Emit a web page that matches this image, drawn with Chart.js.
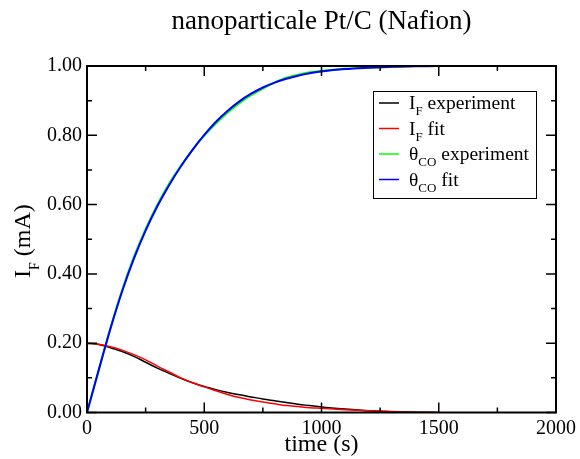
<!DOCTYPE html>
<html lang="en">
<head>
  <meta charset="UTF-8">
  <title>nanoparticale Pt/C (Nafion)</title>
  <script src="https://cdn.jsdelivr.net/npm/chart.js"></script>
  <style>
    html, body {
      margin: 0;
      padding: 0;
      background: #ffffff;
    }
    #caja {
      position: relative;
      width: 580px;
      height: 459px;
    }
  </style>
</head>
<body>
  <div id="caja"><canvas id="miCanvas" width="580" height="459"></canvas></div>

  <script>
    const titulo = "nanoparticale Pt/C (Nafion)";
    const tituloX = "time (s)";
    const tituloY = ["I", "F", " (mA)"];

    // tiempo (s)
    const tiempo = [0, 50, 100, 150, 200, 250, 300, 350, 400, 450, 500, 550, 600, 650, 700,
      750, 800, 850, 900, 950, 1000, 1100, 1200, 1300, 1400, 1500];

    const ifExp = [0.200, 0.196, 0.187, 0.176, 0.162, 0.145, 0.128, 0.113, 0.099, 0.086, 0.075,
      0.066, 0.058, 0.051, 0.045, 0.039, 0.034, 0.029, 0.024, 0.020, 0.016, 0.010, 0.005, 0.002, 0.001, 0.000];
    const ifFit = [0.200, 0.197, 0.190, 0.180, 0.167, 0.152, 0.134, 0.117, 0.100, 0.086, 0.074,
      0.063, 0.052, 0.043, 0.036, 0.030, 0.025, 0.020, 0.017, 0.014, 0.012, 0.008, 0.005, 0.003, 0.001, 0.000];
    const thetaExp = [0, 0.121, 0.244, 0.354, 0.449, 0.530, 0.600, 0.660, 0.712, 0.758, 0.799,
      0.834, 0.866, 0.893, 0.916, 0.935, 0.952, 0.966, 0.975, 0.982, 0.986, 0.992, 0.996, 0.998, 1.000, 1.000];
    const thetaFit = [0, 0.123, 0.242, 0.350, 0.444, 0.525, 0.595, 0.656, 0.710, 0.758, 0.801,
      0.839, 0.871, 0.898, 0.920, 0.938, 0.952, 0.963, 0.972, 0.979, 0.984, 0.991, 0.995, 0.998, 0.999, 1.000];

    // etiquetas: [texto, subindice, resto]
    const etiquetas = [
      ["I", "F", " experiment"],
      ["I", "F", " fit"],
      ["\u03B8", "CO", " experiment"],
      ["\u03B8", "CO", " fit"]
    ];
    const colores = ["#000000", "#ff0000", "#00ff00", "#0000ff"];
    const series = [ifExp, ifFit, thetaExp, thetaFit];

    const xTicks = [0, 500, 1000, 1500, 2000];
    const yTicks = [0, 0.2, 0.4, 0.6, 0.8, 1.0];

    const fuente = "'Liberation Serif', 'Times New Roman', serif";

    // titulo arriba
    const tituloPlugin = {
      id: 'tituloPlugin',
      afterDraw(chart) {
        const { ctx, chartArea: a } = chart;
        ctx.save();
        ctx.fillStyle = '#000';
        ctx.font = `27px ${fuente}`;
        ctx.textAlign = 'center';
        ctx.textBaseline = 'alphabetic';
        ctx.fillText(titulo, (a.left + a.right) / 2, 29);
        ctx.restore();
      }
    };

    // marco y ticks hacia adentro
    const marco = {
      id: 'marco',
      afterDraw(chart) {
        const { ctx, chartArea: a } = chart;
        const x = chart.scales.x;
        const y = chart.scales.y;
        ctx.save();
        ctx.strokeStyle = '#000';
        ctx.lineWidth = 1.5;
        ctx.beginPath();
        for (let i = 0; i < xTicks.length; i++) {
          const px = x.getPixelForValue(xTicks[i]);
          ctx.moveTo(px, a.bottom); ctx.lineTo(px, a.bottom - 10);
          ctx.moveTo(px, a.top); ctx.lineTo(px, a.top + 10);
          if (i < xTicks.length - 1) {
            const pm = x.getPixelForValue((xTicks[i] + xTicks[i + 1]) / 2);
            ctx.moveTo(pm, a.bottom); ctx.lineTo(pm, a.bottom - 5);
            ctx.moveTo(pm, a.top); ctx.lineTo(pm, a.top + 5);
          }
        }
        for (let i = 0; i < yTicks.length; i++) {
          const py = y.getPixelForValue(yTicks[i]);
          ctx.moveTo(a.left, py); ctx.lineTo(a.left + 10, py);
          ctx.moveTo(a.right, py); ctx.lineTo(a.right - 10, py);
          if (i < yTicks.length - 1) {
            const pm = y.getPixelForValue((yTicks[i] + yTicks[i + 1]) / 2);
            ctx.moveTo(a.left, pm); ctx.lineTo(a.left + 5, pm);
            ctx.moveTo(a.right, pm); ctx.lineTo(a.right - 5, pm);
          }
        }
        ctx.stroke();
        ctx.lineWidth = 2;
        ctx.strokeRect(a.left, a.top, a.right - a.left, a.bottom - a.top);
        ctx.restore();
      }
    };

    // titulo del eje y con subindice
    const ejeY = {
      id: 'ejeY',
      afterDraw(chart) {
        const { ctx } = chart;
        ctx.save();
        ctx.translate(30, 278);
        ctx.rotate(-Math.PI / 2);
        ctx.fillStyle = '#000';
        ctx.textBaseline = 'alphabetic';
        ctx.textAlign = 'left';
        ctx.font = `24px ${fuente}`;
        let px = 0;
        ctx.fillText(tituloY[0], px, 0);
        px += ctx.measureText(tituloY[0]).width;
        ctx.font = `14px ${fuente}`;
        ctx.fillText(tituloY[1], px, 9);
        px += ctx.measureText(tituloY[1]).width;
        ctx.font = `24px ${fuente}`;
        ctx.fillText(tituloY[2], px, 0);
        ctx.restore();
      }
    };

    // leyenda con subindices
    const leyenda = {
      id: 'leyenda',
      afterDraw(chart) {
        const { ctx, chartArea: a } = chart;
        const bx = a.right - 183;
        const by = a.top + 25;
        ctx.save();
        ctx.fillStyle = '#fff';
        ctx.fillRect(bx, by, 163, 107);
        ctx.strokeStyle = '#000';
        ctx.lineWidth = 1;
        ctx.strokeRect(bx + 0.5, by + 0.5, 163, 107);
        etiquetas.forEach((e, i) => {
          const ly = by + 12 + i * 25.5;
          ctx.strokeStyle = colores[i];
          ctx.lineWidth = 1.5;
          ctx.beginPath();
          ctx.moveTo(bx + 6, ly);
          ctx.lineTo(bx + 26, ly);
          ctx.stroke();
          ctx.fillStyle = '#000';
          ctx.textBaseline = 'alphabetic';
          let px = bx + 36;
          ctx.font = `19.5px ${fuente}`;
          ctx.fillText(e[0], px, ly + 6);
          px += ctx.measureText(e[0]).width;
          ctx.font = `13px ${fuente}`;
          ctx.fillText(e[1], px, ly + 12);
          px += ctx.measureText(e[1]).width;
          ctx.font = `19.5px ${fuente}`;
          ctx.fillText(e[2], px, ly + 6);
        });
        ctx.restore();
      }
    };

    const ctx = document.getElementById("miCanvas").getContext("2d");

    const anchos = [1.5, 1.5, 2, 2];
    const orden = [4, 3, 2, 1];

    window.miCanva = new Chart(ctx, {
      type: "line",
      data: {
        datasets: series.map((s, i) => ({
          label: etiquetas[i].join(""),
          data: tiempo.map((t, j) => ({ x: t, y: s[j] })),
          borderColor: colores[i],
          backgroundColor: colores[i],
          borderWidth: anchos[i],
          pointRadius: 0,
          cubicInterpolationMode: 'monotone',
          fill: false,
          order: orden[i]
        }))
      },
      options: {
        responsive: false,
        animation: false,
        layout: {
          padding: { top: 66, right: 23, left: 0, bottom: 0 }
        },
        scales: {
          x: {
            type: 'linear',
            min: 0,
            max: 2000,
            afterFit(scale) { scale.height = 46.5; },
            afterBuildTicks(scale) { scale.ticks = xTicks.map(v => ({ value: v })); },
            grid: { display: false, drawTicks: false },
            border: { display: false },
            ticks: {
              color: '#000',
              padding: 4,
              maxRotation: 0,
              font: { family: fuente, size: 20 },
              callback: v => String(v)
            },
            title: {
              display: true,
              text: tituloX,
              color: '#000',
              padding: { top: 0, bottom: 0 },
              font: { family: fuente, size: 24 }
            }
          },
          y: {
            min: 0,
            max: 1,
            afterFit(scale) { scale.width = 87; },
            afterBuildTicks(scale) { scale.ticks = yTicks.map(v => ({ value: v })); },
            grid: { display: false, drawTicks: false },
            border: { display: false },
            ticks: {
              color: '#000',
              padding: 5,
              font: { family: fuente, size: 20 },
              callback: v => Number(v).toFixed(2)
            }
          }
        },
        plugins: {
          legend: { display: false },
          tooltip: { enabled: false },
          title: { display: false }
        }
      },
      plugins: [tituloPlugin, marco, ejeY, leyenda]
    });
  </script>
</body>
</html>
